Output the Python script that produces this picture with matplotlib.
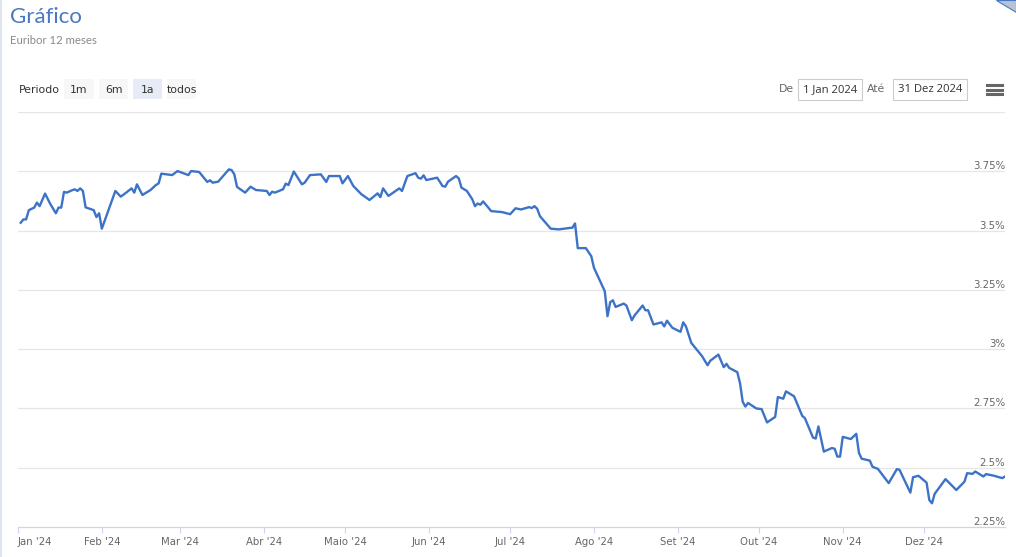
import numpy as np
import matplotlib
matplotlib.use("Agg")
import matplotlib.pyplot as plt
from matplotlib.patches import Rectangle, Polygon

# Euribor 12 meses, 2024
dates = [
    "2024-01-02", "2024-01-03", "2024-01-04", "2024-01-05", "2024-01-07", "2024-01-08",
    "2024-01-09", "2024-01-11", "2024-01-13", "2024-01-15", "2024-01-16", "2024-01-17",
    "2024-01-18", "2024-01-19", "2024-01-21", "2024-01-22", "2024-01-23", "2024-01-24",
    "2024-01-25", "2024-01-26", "2024-01-29", "2024-01-30", "2024-01-31", "2024-02-01",
    "2024-02-06", "2024-02-08", "2024-02-10", "2024-02-12", "2024-02-13", "2024-02-14",
    "2024-02-16", "2024-02-19", "2024-02-21", "2024-02-22", "2024-02-23", "2024-02-27",
    "2024-02-29", "2024-03-04", "2024-03-05", "2024-03-08", "2024-03-11", "2024-03-12",
    "2024-03-13", "2024-03-15", "2024-03-19", "2024-03-20", "2024-03-21", "2024-03-22",
    "2024-03-25", "2024-03-27", "2024-03-29", "2024-04-02", "2024-04-03", "2024-04-04",
    "2024-04-05", "2024-04-08", "2024-04-09", "2024-04-10", "2024-04-12", "2024-04-15",
    "2024-04-16", "2024-04-18", "2024-04-22", "2024-04-24", "2024-04-25", "2024-04-29",
    "2024-04-30", "2024-05-02", "2024-05-04", "2024-05-07", "2024-05-10", "2024-05-13",
    "2024-05-14", "2024-05-15", "2024-05-17", "2024-05-21", "2024-05-22", "2024-05-24",
    "2024-05-27", "2024-05-28", "2024-05-29", "2024-05-30", "2024-05-31", "2024-06-04",
    "2024-06-06", "2024-06-07", "2024-06-08", "2024-06-11", "2024-06-12", "2024-06-13",
    "2024-06-15", "2024-06-17", "2024-06-18", "2024-06-19", "2024-06-20", "2024-06-21",
    "2024-06-24", "2024-06-28", "2024-07-01", "2024-07-03", "2024-07-05", "2024-07-08",
    "2024-07-09", "2024-07-10", "2024-07-11", "2024-07-12", "2024-07-16", "2024-07-19",
    "2024-07-23", "2024-07-24", "2024-07-25", "2024-07-26", "2024-07-29", "2024-07-31",
    "2024-08-01", "2024-08-05", "2024-08-06", "2024-08-07", "2024-08-08", "2024-08-09",
    "2024-08-12", "2024-08-13", "2024-08-15", "2024-08-16", "2024-08-19", "2024-08-20",
    "2024-08-21", "2024-08-23", "2024-08-26", "2024-08-27", "2024-08-28", "2024-08-30",
    "2024-09-02", "2024-09-03", "2024-09-04", "2024-09-06", "2024-09-10", "2024-09-12",
    "2024-09-13", "2024-09-16", "2024-09-18", "2024-09-19", "2024-09-20", "2024-09-23",
    "2024-09-24", "2024-09-25", "2024-09-26", "2024-09-27", "2024-09-30", "2024-10-02",
    "2024-10-04", "2024-10-07", "2024-10-08", "2024-10-10", "2024-10-11", "2024-10-14",
    "2024-10-17", "2024-10-18", "2024-10-21", "2024-10-22", "2024-10-23", "2024-10-25",
    "2024-10-28", "2024-10-29", "2024-10-30", "2024-10-31", "2024-11-01", "2024-11-04",
    "2024-11-06", "2024-11-07", "2024-11-08", "2024-11-11", "2024-11-12", "2024-11-14",
    "2024-11-18", "2024-11-21", "2024-11-22", "2024-11-26", "2024-11-27", "2024-11-29",
    "2024-12-02", "2024-12-03", "2024-12-04", "2024-12-05", "2024-12-09", "2024-12-13",
    "2024-12-16", "2024-12-17", "2024-12-19", "2024-12-20", "2024-12-23", "2024-12-24",
    "2024-12-27", "2024-12-30", "2024-12-31",
]
euribor = [
    3.533, 3.547, 3.547, 3.586, 3.597, 3.618,
    3.603, 3.656, 3.611, 3.573, 3.597, 3.597,
    3.663, 3.660, 3.670, 3.674, 3.667, 3.678,
    3.667, 3.598, 3.586, 3.557, 3.573, 3.508,
    3.667, 3.643, 3.660, 3.678, 3.660, 3.695,
    3.650, 3.671, 3.692, 3.699, 3.740, 3.734,
    3.751, 3.734, 3.751, 3.747, 3.705, 3.712,
    3.702, 3.706, 3.758, 3.755, 3.737, 3.684,
    3.660, 3.685, 3.671, 3.667, 3.650, 3.664,
    3.660, 3.674, 3.698, 3.692, 3.749, 3.695,
    3.702, 3.734, 3.737, 3.705, 3.730, 3.730,
    3.699, 3.730, 3.688, 3.653, 3.629, 3.657,
    3.641, 3.678, 3.646, 3.678, 3.667, 3.730,
    3.742, 3.723, 3.719, 3.733, 3.713, 3.723,
    3.688, 3.685, 3.706, 3.730, 3.720, 3.681,
    3.667, 3.632, 3.603, 3.614, 3.609, 3.623,
    3.582, 3.578, 3.569, 3.594, 3.589, 3.599,
    3.595, 3.603, 3.592, 3.561, 3.508, 3.505,
    3.511, 3.512, 3.530, 3.426, 3.426, 3.392,
    3.343, 3.244, 3.139, 3.198, 3.206, 3.178,
    3.192, 3.184, 3.122, 3.142, 3.184, 3.164,
    3.164, 3.104, 3.113, 3.096, 3.120, 3.090,
    3.073, 3.113, 3.096, 3.026, 2.970, 2.932,
    2.951, 2.977, 2.924, 2.938, 2.921, 2.903,
    2.857, 2.778, 2.758, 2.773, 2.750, 2.747,
    2.691, 2.714, 2.798, 2.791, 2.822, 2.801,
    2.719, 2.709, 2.627, 2.623, 2.674, 2.568,
    2.583, 2.580, 2.547, 2.547, 2.630, 2.621,
    2.643, 2.562, 2.538, 2.530, 2.504, 2.495,
    2.435, 2.494, 2.491, 2.395, 2.460, 2.466,
    2.437, 2.364, 2.350, 2.390, 2.452, 2.406,
    2.441, 2.477, 2.474, 2.484, 2.463, 2.473,
    2.466, 2.456, 2.463,
]

y_ticks = [2.25, 2.5, 2.75, 3.0, 3.25, 3.5, 3.75]
grid_levels = [2.5, 2.75, 3.0, 3.25, 3.5, 3.75, 4.0]
month_labels = ["Jan '24", "Feb '24", "Mar '24", "Abr '24", "Maio '24", "Jun '24",
                "Jul '24", "Ago '24", "Set '24", "Out '24", "Nov '24", "Dez '24"]
periods = ["1m", "6m", "1a", "todos"]

W, H = 1016, 557
fig = plt.figure(figsize=(W / 100, H / 100), dpi=100)
fig.patch.set_facecolor("white")


def fx(x):
    return x / W


def fy(y):
    return 1 - y / H


# plot area: x 18..1005, y 112..527 px
ax = fig.add_axes([fx(18), fy(527), fx(1005) - fx(18), fy(112) - fy(527)])
x = np.array(dates, dtype="datetime64[D]")
ax.plot(x, euribor, color="#3d73c6", lw=1.7, solid_joinstyle="round", zorder=3)

ax.set_xlim(np.datetime64("2024-01-01"), np.datetime64("2024-12-31"))
ax.set_ylim(2.25, 4.0)

for g in grid_levels:
    ax.axhline(g, color="#e6e6e6", lw=0.9, zorder=1)

ax.set_yticks([])
for v in y_ticks:
    ax.annotate(f"{v:g}%", xy=(1.0, v), xycoords=ax.get_yaxis_transform(),
                xytext=(0, 0), textcoords="offset points",
                ha="right", va="bottom", fontsize=7.3, color="#666666")

month_starts = np.arange("2024-01", "2025-01", dtype="datetime64[M]").astype("datetime64[D]")
ax.set_xticks(month_starts)
ax.set_xticklabels(month_labels)
ax.tick_params(axis="x", direction="out", length=4.5, width=0.8, color="#ccd6eb",
               labelsize=7.3, labelcolor="#666666", pad=3)
ax.get_xticklabels()[0].set_horizontalalignment("left")

for s in ["top", "left", "right"]:
    ax.spines[s].set_visible(False)
ax.spines["bottom"].set_color("#ccd6eb")
ax.spines["bottom"].set_linewidth(0.9)
ax.set_facecolor("none")

# title block
fig.text(fx(10), fy(17), "Gráfico", fontsize=16, color="#4a78c2",
         family="Lato", va="center", ha="left")
fig.text(fx(10), fy(41), "Euribor 12 meses", fontsize=8.2, color="#8a8a8a",
         family="Lato", va="center", ha="left")

# range selector
fig.text(fx(19), fy(90), "Periodo", fontsize=7.8, color="#333333", va="center", ha="left")
btn_x = [64, 99, 133, 167]
btn_w = [30, 29, 29, 29]
for lbl, bx, bw in zip(periods, btn_x, btn_w):
    face = "#e6ebf5" if lbl == "1a" else "#f7f7f7"
    fig.patches.append(Rectangle((fx(bx), fy(99)), fx(bw), fy(79) - fy(99),
                                 transform=fig.transFigure, facecolor=face,
                                 edgecolor="none"))
    fig.text(fx(bx + bw / 2), fy(90), lbl, fontsize=7.8, color="#333333",
             va="center", ha="center")

# date inputs
fig.text(fx(779), fy(89), "De", fontsize=7.8, color="#666666", va="center", ha="left")
fig.text(fx(867), fy(89), "Até", fontsize=7.8, color="#666666", va="center", ha="left")
for (bx0, bx1, txt) in [(798, 862, "1 Jan 2024"), (893, 967, "31 Dez 2024")]:
    fig.patches.append(Rectangle((fx(bx0), fy(100)), fx(bx1 - bx0), fy(79) - fy(100),
                                 transform=fig.transFigure, facecolor="white",
                                 edgecolor="#cccccc", lw=0.8))
    fig.text(fx((bx0 + bx1) / 2), fy(89.5), txt, fontsize=8.1, color="#333333",
             family="Open Sans", va="center", ha="center")

# menu icon
for yy in [85, 89.5, 94]:
    fig.lines.append(plt.Line2D([fx(987), fx(1002)], [fy(yy), fy(yy)],
                                transform=fig.transFigure, color="#666666", lw=2.2))

# left border and corner mark
fig.lines.append(plt.Line2D([fx(1), fx(1)], [0, 1], transform=fig.transFigure,
                            color="#dfe5ee", lw=1.5))
fig.patches.append(Polygon([(fx(996), fy(0)), (fx(1016), fy(0)), (fx(1016), fy(12))],
                           closed=True, transform=fig.transFigure,
                           facecolor="#b8c4d6", edgecolor="#4a78c2", lw=0.8))

fig.savefig("out.png", dpi=100, facecolor="white")
